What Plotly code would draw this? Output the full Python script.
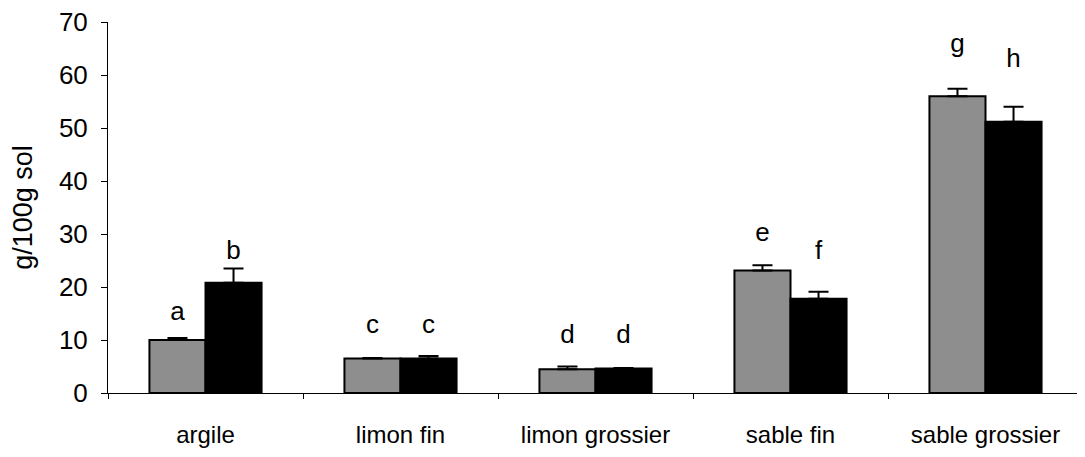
import plotly.graph_objects as go

categories = ["argile", "limon fin", "limon grossier", "sable fin", "sable grossier"]
gris = [10.0, 6.5, 4.5, 23.1, 56.0]
gris_err = [0.4, 0.1, 0.5, 1.0, 1.4]
noir = [20.8, 6.5, 4.6, 17.8, 51.2]
noir_err = [2.7, 0.5, 0.1, 1.3, 2.8]
lettres_gris = ["a", "c", "d", "e", "g"]
lettres_noir = ["b", "c", "d", "f", "h"]
hauteur_gris = [15.0, 12.6, 10.7, 29.9, 65.6]
hauteur_noir = [26.6, 12.6, 10.7, 26.5, 62.7]

font_name = "Liberation Sans, Arial, sans-serif"

fig = go.Figure()
fig.add_trace(go.Bar(
    x=categories, y=gris, offsetgroup="g", name="gris",
    marker=dict(color="#8e8e8e", line=dict(color="black", width=2)),
    error_y=dict(type="data", array=gris_err, arrayminus=[0] * 5, symmetric=False,
                 color="black", thickness=2, width=10),
))
fig.add_trace(go.Bar(
    x=categories, y=noir, offsetgroup="n", name="noir",
    marker=dict(color="black", line=dict(color="black", width=2)),
    error_y=dict(type="data", array=noir_err, arrayminus=[0] * 5, symmetric=False,
                 color="black", thickness=2, width=10),
))
# lettres de significativité au-dessus des barres
fig.add_trace(go.Scatter(
    x=categories, y=hauteur_gris, offsetgroup="g", mode="text", text=lettres_gris,
    textfont=dict(family=font_name, size=26, color="black"), showlegend=False,
))
fig.add_trace(go.Scatter(
    x=categories, y=hauteur_noir, offsetgroup="n", mode="text", text=lettres_noir,
    textfont=dict(family=font_name, size=26, color="black"), showlegend=False,
))

# la page html ajoute 8px de marge au body
fig.update_layout(
    width=1077, height=449,
    margin=dict(l=100, r=2, t=14, b=64),
    paper_bgcolor="white", plot_bgcolor="white",
    barmode="group", bargap=0.425, bargroupgap=0,
    scattermode="group", scattergap=0.425,
    showlegend=False,
    font=dict(family=font_name, size=22, color="black"),
)
fig.update_yaxes(
    range=[0, 70], dtick=10, showgrid=False, zeroline=False,
    showline=True, linecolor="black", linewidth=1,
    ticks="outside", ticklen=6, tickcolor="black",
    tickfont=dict(size=26), ticklabelstandoff=8, ticklabeloverflow="allow",
    title=dict(text="g/100g sol", font=dict(size=27), standoff=18),
    automargin=False,
)
fig.update_xaxes(
    showgrid=False, showline=True, linecolor="black", linewidth=1,
    ticks="outside", tickson="boundaries", ticklen=5, tickcolor="black",
    tickfont=dict(size=24), ticklabelstandoff=20,
    automargin=False,
)

fig.write_html("out.html")
